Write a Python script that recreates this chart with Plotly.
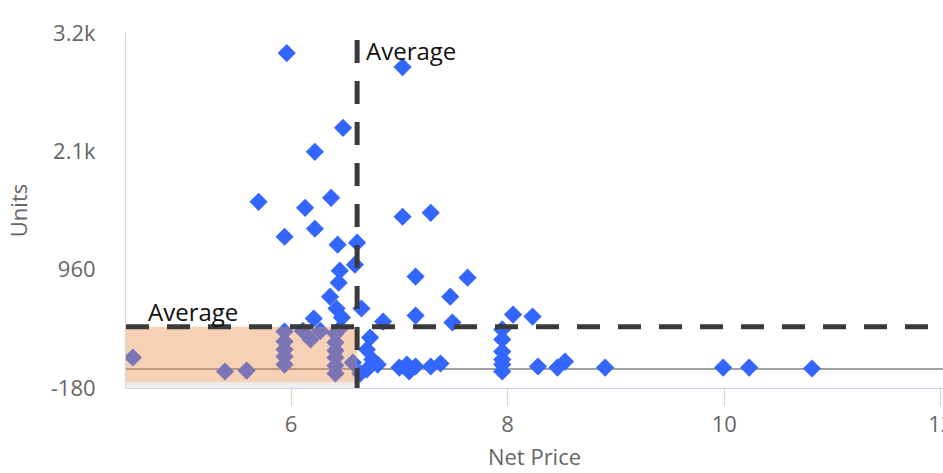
import plotly.graph_objects as go

## data
net_price = [5.96, 7.03, 6.48, 6.22, 5.70, 6.37, 6.13, 5.94, 6.22, 7.03, 7.29,
             6.43, 6.61, 6.59, 6.45, 6.44, 7.15, 7.63, 6.36, 7.47, 6.42, 6.65,
             6.21, 6.47, 6.85, 7.15, 7.49, 8.05, 8.23,
             5.94, 5.94, 5.94, 5.94, 5.94, 6.11, 6.18, 6.27,
             6.41, 6.41, 6.41, 6.41, 6.41, 6.41, 6.45, 6.57,
             4.54, 5.39, 5.59,
             6.73, 6.70, 6.75, 6.80, 6.70, 6.64,
             7.00, 7.07, 7.09, 7.15, 7.29, 7.38,
             7.95, 7.95, 7.95, 7.95, 7.95, 7.95,
             8.28, 8.46, 8.53, 8.90, 9.99, 10.23, 10.81]
units = [3047, 2912, 2326, 2095, 1614, 1652, 1556, 1277, 1354, 1470, 1508,
         1201, 1220, 1008, 950, 835, 893, 883, 700, 700, 586, 586,
         489, 498, 460, 518, 451, 527, 508,
         364, 267, 190, 123, 46, 370, 287, 370,
         344, 258, 181, 114, 37, -40, 392, 65,
         114, -21, -12,
         306, 191, 94, 46, -2, -40,
         17, 46, -21, 27, 27, 56,
         384, 288, 171, 94, 46, -21,
         27, 17, 75, 17, 17, 17, 8]

avg_price = 6.61
avg_units = 409
band_units = [-124, 409]
x_range = [4.476, 12.02]
y_range = [-180, 3240]
y_ticks = [-180, 960, 2100, 3240]
y_labels = ["-180", "960", "2.1k", "3.2k"]

fig = go.Figure(go.Scatter(
    x=net_price, y=units, mode="markers",
    marker=dict(symbol="diamond", size=14, color="#3366ff", line=dict(width=0)),
    showlegend=False, hoverinfo="x+y"))

# shaded quadrant (below average price and units)
fig.add_shape(type="rect", layer="above", x0=x_range[0], x1=avg_price,
              y0=y_range[0], y1=band_units[0], line_width=0,
              fillcolor="rgba(0,0,0,0.07)")
fig.add_shape(type="rect", layer="above", x0=x_range[0], x1=avg_price,
              y0=band_units[0], y1=band_units[1], line_width=0,
              fillcolor="rgba(236,140,70,0.4)")

# average lines
dash_line = dict(color="#3a3a3a", width=5, dash="23px,18px")
fig.add_shape(type="line", layer="above", x0=avg_price, x1=avg_price,
              y0=3173, y1=y_range[0], line=dash_line)
fig.add_shape(type="line", layer="above", x0=x_range[0], x1=x_range[1],
              y0=avg_units, y1=avg_units, line=dash_line)

fig.add_annotation(x=avg_price, y=3076, text="Average", showarrow=False,
                   xanchor="left", yanchor="middle", xshift=7,
                   font=dict(size=24, color="#111111"))
fig.add_annotation(x=4.66, y=556, text="Average", showarrow=False,
                   xanchor="left", yanchor="middle",
                   font=dict(size=24, color="#111111"))

fig.update_xaxes(range=x_range, tickvals=[6, 8, 10, 12], showgrid=False,
                 zeroline=False, showline=True, linecolor="#ccd6eb", linewidth=1,
                 ticks="outside", ticklen=17, tickcolor="#ccd6eb",
                 ticklabeloverflow="allow",
                 tickfont=dict(size=22, color="#666666"),
                 title=dict(text="Net Price", font=dict(size=22, color="#666666"), standoff=12),
                 automargin=False)
fig.update_yaxes(range=y_range, tickvals=y_ticks, ticktext=y_labels, showgrid=False,
                 zeroline=True, zerolinecolor="#a0a0a0", zerolinewidth=1.5,
                 showline=True, linecolor="#ccd6eb", linewidth=1,
                 ticks="", ticklabelstandoff=25,
                 tickfont=dict(size=22, color="#666666"),
                 title=dict(text="Units", font=dict(size=22, color="#666666"), standoff=17),
                 automargin=False)

fig.update_layout(width=943, height=473,
                  margin=dict(l=126, r=0, t=33, b=85),
                  paper_bgcolor="white", plot_bgcolor="white",
                  font=dict(family="Open Sans, sans-serif"))

fig.write_html("out.html", config={"displayModeBar": False},
               post_script="document.body.style.margin='0';")
